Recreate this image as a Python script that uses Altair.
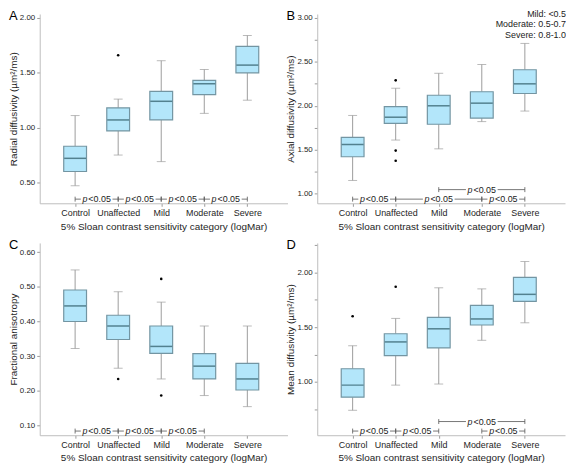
import json
import altair as alt
import pandas as pd

categories = ["Control", "Unaffected", "Mild", "Moderate", "Severe"]

# Panel A: radial diffusivity
a_min = [0.47, 0.75, 0.69, 1.13, 1.25]
a_q1 = [0.60, 0.97, 1.07, 1.30, 1.50]
a_med = [0.72, 1.07, 1.24, 1.40, 1.57]
a_q3 = [0.83, 1.18, 1.33, 1.43, 1.74]
a_max = [1.11, 1.26, 1.61, 1.53, 1.84]
a_out_cat = ["Unaffected"]
a_out_val = [1.66]
a_sig_from = ["Control", "Unaffected", "Mild", "Moderate"]
a_sig_to = ["Unaffected", "Mild", "Moderate", "Severe"]
a_sig_level = [0, 0, 0, 0]

# Panel B: axial diffusivity
b_min = [1.15, 1.61, 1.51, 1.82, 1.94]
b_q1 = [1.42, 1.80, 1.79, 1.86, 2.14]
b_med = [1.56, 1.87, 2.00, 2.03, 2.25]
b_q3 = [1.64, 1.99, 2.12, 2.16, 2.41]
b_max = [1.89, 2.20, 2.37, 2.47, 2.71]
b_out_cat = ["Unaffected", "Unaffected", "Unaffected"]
b_out_val = [2.29, 1.49, 1.375]
b_sig_from = ["Control", "Unaffected", "Moderate", "Mild"]
b_sig_to = ["Unaffected", "Moderate", "Severe", "Severe"]
b_sig_level = [0, 0, 0, 1]

# Panel C: fractional anisotropy
c_min = [0.322, 0.265, 0.234, 0.186, 0.154]
c_q1 = [0.400, 0.348, 0.308, 0.234, 0.202]
c_med = [0.445, 0.387, 0.328, 0.271, 0.234]
c_q3 = [0.491, 0.418, 0.387, 0.307, 0.279]
c_max = [0.549, 0.486, 0.456, 0.387, 0.387]
c_out_cat = ["Unaffected", "Mild", "Mild"]
c_out_val = [0.234, 0.523, 0.186]
c_sig_from = ["Control", "Unaffected", "Mild"]
c_sig_to = ["Unaffected", "Mild", "Moderate"]
c_sig_level = [0, 0, 0]

# Panel D: mean diffusivity
d_min = [0.74, 0.97, 0.98, 1.38, 1.54]
d_q1 = [0.86, 1.24, 1.31, 1.52, 1.735]
d_med = [0.97, 1.365, 1.485, 1.575, 1.80]
d_q3 = [1.12, 1.44, 1.59, 1.70, 1.955]
d_max = [1.33, 1.58, 1.86, 1.85, 2.10]
d_out_cat = ["Control", "Unaffected"]
d_out_val = [1.60, 1.87]
d_sig_from = ["Control", "Unaffected", "Moderate", "Mild"]
d_sig_to = ["Unaffected", "Mild", "Severe", "Severe"]
d_sig_level = [0, 0, 0, 1]

a_ticks = [0.50, 1.00, 1.50, 2.00]
b_ticks = [1.00, 1.25, 1.50, 1.75, 2.00, 2.25, 2.50, 2.75, 3.00]
c_ticks = [0.10, 0.20, 0.30, 0.40, 0.50, 0.60]
d_ticks = [0.75, 1.00, 1.25, 1.50, 1.75, 2.00, 2.25]

note_lines = ["Mild: <0.5", "Moderate: 0.5-0.7", "Severe: 0.8-1.0"]
xtitle = "5% Sloan contrast sensitivity category (logMar)"

FONT = "Liberation Sans"
FILL = "#b3e6fa"
BOX_STROKE = "#7395a2"
MED = "#2a5561"
WHISK = "#9c9c9c"
W = 250
STEP = 45.25
LEFT = 32
XDOM = [-LEFT / STEP, -LEFT / STEP + W / STEP]


def make_panel(letter, ytitle, mins, q1, med, q3, mx, out_cat, out_val,
               sig_from, sig_to, sig_level, ydomain, ticks, label_step, height, note=None):
    pos = {c: i for i, c in enumerate(categories)}
    box_df = pd.DataFrame({"cat": categories, "idx": [pos[c] for c in categories],
                           "lo": mins, "q1": q1, "med": med, "q3": q3, "hi": mx})
    out_df = pd.DataFrame({"idx": [pos[c] for c in out_cat], "v": out_val})
    sig_df = pd.DataFrame({"a": [pos[c] for c in sig_from], "b": [pos[c] for c in sig_to],
                           "lvl": sig_level})

    xscale = alt.Scale(domain=XDOM, nice=False, zero=False)
    xaxis = alt.Axis(values=list(range(len(categories))),
                     labelExpr=json.dumps(categories) + "[datum.value]",
                     title=xtitle, grid=False)
    yscale = alt.Scale(domain=ydomain, nice=False, zero=False)
    lab = ("abs(datum.value/%g - round(datum.value/%g)) < 0.01 ? format(datum.value, '.2f') : ''"
           % (label_step, label_step))
    yaxis = alt.Axis(values=ticks, labelExpr=lab, title=ytitle, grid=False)

    def X(f):
        return alt.X(f + ":Q", scale=xscale, axis=xaxis, title=xtitle)

    def Y(f):
        return alt.Y(f + ":Q", scale=yscale, axis=yaxis, title=ytitle)

    base = alt.Chart(box_df)
    layers = [
        base.mark_rule(color=WHISK, strokeWidth=1).encode(x=X("idx"), y=Y("lo"), y2="q1"),
        base.mark_rule(color=WHISK, strokeWidth=1).encode(x=X("idx"), y=Y("q3"), y2="hi"),
        base.mark_tick(orient="horizontal", size=9, thickness=1, color=WHISK).encode(x=X("idx"), y=Y("lo")),
        base.mark_tick(orient="horizontal", size=9, thickness=1, color=WHISK).encode(x=X("idx"), y=Y("hi")),
        base.mark_bar(size=23, fill=FILL, stroke=BOX_STROKE, strokeWidth=1.2).encode(
            x=X("idx"), y=Y("q1"), y2="q3"),
        base.mark_tick(orient="horizontal", size=22, thickness=1.5, color=MED).encode(x=X("idx"), y=Y("med")),
    ]
    if len(out_df):
        layers.append(alt.Chart(out_df).mark_circle(size=7, color="black", opacity=1).encode(
            x=X("idx"), y=Y("v")))

    sig = alt.Chart(sig_df)
    for lvl in sorted(set(sig_level)):
        yb = height - 4.2 - 9.6 * lvl
        s = sig.transform_filter("datum.lvl == %d" % lvl).transform_calculate(
            mid="(datum.a + datum.b) / 2", p="'p'", r="'<0.05'")
        layers += [
            s.mark_rule(color="#555555", strokeWidth=0.8).encode(x=X("a"), x2="b", y=alt.value(yb)),
            s.mark_rule(color="#555555", strokeWidth=0.8).encode(
                x=X("a"), y=alt.value(yb - 2.5), y2=alt.value(yb + 2.5)),
            s.mark_rule(color="#555555", strokeWidth=0.8).encode(
                x=X("b"), y=alt.value(yb - 2.5), y2=alt.value(yb + 2.5)),
            s.mark_tick(orient="horizontal", size=32, thickness=6, color="white", opacity=1).encode(
                x=X("mid"), y=alt.value(yb)),
            s.mark_text(font=FONT, fontSize=9, fontStyle="italic", align="right", baseline="middle",
                        dx=-9.3, color="#222222").encode(x=X("mid"), y=alt.value(yb), text="p:N"),
            s.mark_text(font=FONT, fontSize=9, align="left", baseline="middle",
                        dx=-8.4, color="#222222").encode(x=X("mid"), y=alt.value(yb), text="r:N"),
        ]

    layers.append(alt.Chart(pd.DataFrame({"t": [letter]})).mark_text(
        font=FONT, fontSize=13, align="left", baseline="top", color="black").encode(
        x=alt.value(-31), y=alt.value(-4), text="t:N"))
    if note:
        layers.append(alt.Chart(pd.DataFrame({"t": ["\n".join(note)]})).mark_text(
            font=FONT, fontSize=9, align="right", baseline="top", lineBreak="\n",
            lineHeight=10.5, color="#222222").encode(
            x=alt.value(W + 1), y=alt.value(-4), text="t:N"))

    return alt.layer(*layers).properties(width=W, height=height)


pa = make_panel("A", "Radial diffusivity (\u00b5m\u00b2/ms)", a_min, a_q1, a_med, a_q3, a_max,
                a_out_cat, a_out_val, a_sig_from, a_sig_to, a_sig_level,
                [0.31, 2.036], a_ticks, 0.5, 191)
pb = make_panel("B", "Axial diffusivity (\u00b5m\u00b2/ms)", b_min, b_q1, b_med, b_q3, b_max,
                b_out_cat, b_out_val, b_sig_from, b_sig_to, b_sig_level,
                [0.89, 3.045], b_ticks, 0.5, 191, note=note_lines)
pc = make_panel("C", "Fractional anisotropy", c_min, c_q1, c_med, c_q3, c_max,
                c_out_cat, c_out_val, c_sig_from, c_sig_to, c_sig_level,
                [0.0714, 0.627], c_ticks, 0.1, 194)
pd_ = make_panel("D", "Mean diffusivity (\u00b5m\u00b2/ms)", d_min, d_q1, d_med, d_q3, d_max,
                 d_out_cat, d_out_val, d_sig_from, d_sig_to, d_sig_level,
                 [0.512, 2.27], d_ticks, 0.5, 194)

chart = alt.concat(pa, pb, pc, pd_, columns=2, spacing={"row": 40, "column": 30},
                   bounds="flush").properties(
    padding={"left": 0, "top": 0, "right": 0, "bottom": 0}
).configure_view(stroke=None).configure_axis(
    domainColor="#bdbdbd", tickColor="#9a9a9a", tickSize=3, labelFont=FONT, titleFont=FONT,
    labelFontSize=9, titleFontSize=10, labelColor="#1e1e1e", titleColor="#1e1e1e",
    titleFontWeight="normal", labelPadding=2
).configure_axisY(titlePadding=1, labelFontSize=8).configure_axisX(titlePadding=4)

chart.save("out.html", embed_options={"renderer": "svg", "actions": False})
